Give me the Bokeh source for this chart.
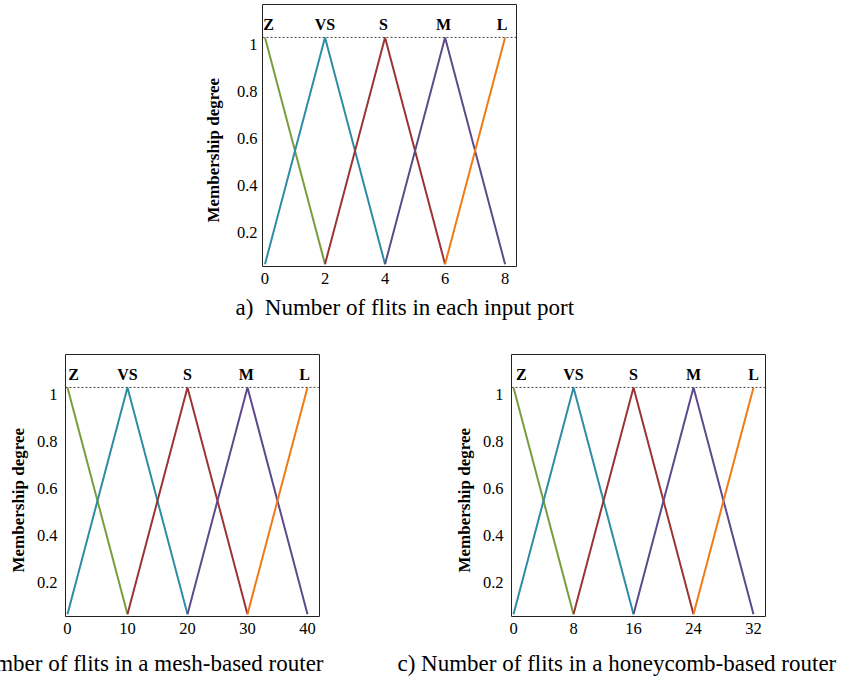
from bokeh.plotting import figure
from bokeh.models import Range1d, FixedTicker, CustomJSTickFormatter, Span, Title, Spacer
from bokeh.layouts import column, row
from bokeh.core.properties import value
from bokeh.embed import file_html
from bokeh.resources import INLINE

# ---- data ----
terms = ["Z", "VS", "S", "M", "L"]
term_colors = ["#7b9c3a", "#2e8ca6", "#9c3434", "#5c4a8a", "#f07a14"]
peak_mu = 1.03
base_mu = 0.065
label_mu = 1.085
y_ticks = [0.2, 0.4, 0.6, 0.8, 1.0]

centers_a = [0, 2, 4, 6, 8]
centers_b = [0, 10, 20, 30, 40]
centers_c = [0, 8, 16, 24, 32]

term_x_a = [0.12, 2, 3.95, 5.95, 7.9]
term_x_b = [1.0, 10, 20, 29.8, 39.5]
term_x_c = [1.05, 8, 16, 24, 32]

caption_a = "a)\u00a0 Number of flits in each input port"
caption_b = "b) Number of flits in a mesh-based router"
caption_c = "c) Number of flits in a honeycomb-based router"
y_label = "Membership degree"

FONT = "Liberation Serif"


def make_fig(centers, term_x, xr, caption, cap_align, cap_offset, cap_standoff,
             ylab_standoff, ytick_standoff, mb_left, mb_right, mb_top, mb_bottom):
    p = figure(frame_width=254, frame_height=262, output_backend="svg",
               toolbar_location=None, x_range=Range1d(*xr), y_range=Range1d(0.055, 1.17),
               min_border_left=mb_left, min_border_right=mb_right,
               min_border_top=mb_top, min_border_bottom=mb_bottom)
    p.background_fill_color = "white"
    p.border_fill_color = "white"
    p.outline_line_color = "#222222"
    p.outline_line_width = 1
    p.xgrid.visible = False
    p.ygrid.visible = False

    n = len(centers)
    for i in range(n):
        xs, ys = [], []
        if i > 0:
            xs.append(centers[i - 1]); ys.append(base_mu)
        xs.append(centers[i]); ys.append(peak_mu)
        if i < n - 1:
            xs.append(centers[i + 1]); ys.append(base_mu)
        p.line(xs, ys, line_color=term_colors[i], line_width=2)

    p.add_layout(Span(location=peak_mu, dimension="width", line_color="#444444",
                      line_width=1, line_dash="2 2"))

    p.text(x=term_x, y=[label_mu] * n, text=terms, text_font=value(FONT),
           text_font_style="bold", text_font_size="16px", text_align="center",
           text_baseline="alphabetic", text_color="black")

    for ax in (p.xaxis[0], p.yaxis[0]):
        ax.axis_line_color = None
        ax.major_tick_line_color = None
        ax.minor_tick_line_color = None
        ax.major_tick_in = 0
        ax.major_tick_out = 0
        ax.minor_tick_in = 0
        ax.minor_tick_out = 0
        ax.major_label_text_font = FONT
        ax.major_label_text_font_size = "16.5px"
        ax.major_label_text_color = "black"

    p.xaxis.ticker = FixedTicker(ticks=centers)
    p.xaxis.major_label_standoff = 6
    p.yaxis.ticker = FixedTicker(ticks=y_ticks)
    p.yaxis.formatter = CustomJSTickFormatter(code="return String(Math.round(tick*10)/10);")
    p.yaxis.major_label_standoff = ytick_standoff

    # y axis title (placed off-centre, as in the reference)
    yt = Title(text=y_label, align="left", offset=44, text_font=FONT,
               text_font_size="17px", text_font_style="bold", text_color="black",
               standoff=ylab_standoff)
    p.add_layout(yt, "left")

    t = Title(text=caption, align=cap_align, offset=cap_offset,
              text_font=FONT, text_font_size="23px", text_font_style="normal",
              text_color="black", standoff=cap_standoff)
    p.add_layout(t, "below")
    return p


p1 = make_fig(centers_a, term_x_a, (-0.083, 8.38), caption_a, "left", -27, 12,
              22, 5, 80, 80, 4, 59)
p2 = make_fig(centers_b, term_x_b, (-0.33, 42.0), caption_b, "right", -4, 24,
              12, 8, 65, 10, 29, 62)
p3 = make_fig(centers_c, term_x_c, (-0.27, 33.6), caption_c, "left", -114, 24,
              12, 8, 120, 78, 29, 62)

layout = column(row(Spacer(width=182, height=10), p1),
                row(p2, Spacer(width=62, height=10), p3))

open("out.html", "w").write(file_html(layout, INLINE))
